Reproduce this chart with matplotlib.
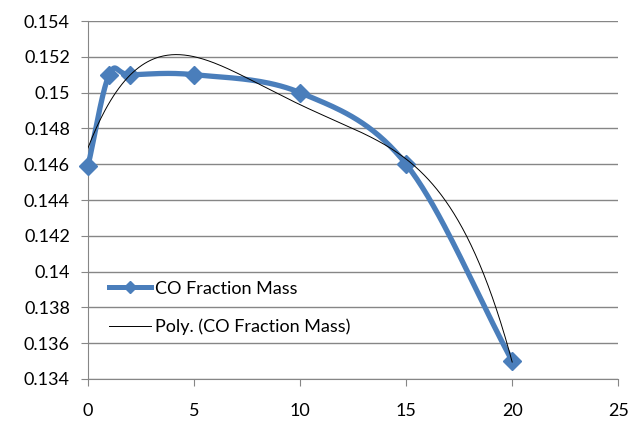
import numpy as np
import matplotlib
matplotlib.use("Agg")
import matplotlib.pyplot as plt
from matplotlib.ticker import FuncFormatter

x_vals = [0, 1, 2, 5, 10, 15, 20]
co_mass = [0.1459, 0.1510, 0.1510, 0.1510, 0.1500, 0.1460, 0.1350]
series_label = "CO Fraction Mass"
trend_label = "Poly. (CO Fraction Mass)"
poly_order = 4

plt.rcParams['font.family'] = ['Lato', 'DejaVu Sans']

def catmull_rom(xs, ys, n=40):
    xs = np.asarray(xs, float); ys = np.asarray(ys, float)
    px = np.concatenate([[2*xs[0]-xs[1]], xs, [2*xs[-1]-xs[-2]]])
    py = np.concatenate([[2*ys[0]-ys[1]], ys, [2*ys[-1]-ys[-2]]])
    ox, oy = [], []
    for i in range(1, len(px)-2):
        p0 = np.array([px[i], py[i]])
        p3 = np.array([px[i+1], py[i+1]])
        c1 = p0 + (np.array([px[i+1], py[i+1]]) - np.array([px[i-1], py[i-1]])) / 6
        c2 = p3 - (np.array([px[i+2], py[i+2]]) - np.array([px[i], py[i]])) / 6
        t = np.linspace(0, 1, n)[:, None]
        b = (1-t)**3*p0 + 3*(1-t)**2*t*c1 + 3*(1-t)*t**2*c2 + t**3*p3
        ox.extend(b[:, 0]); oy.extend(b[:, 1])
    return np.array(ox), np.array(oy)

fig = plt.figure(figsize=(6.42, 4.21), dpi=100)
ax = fig.add_axes([0.137, 0.0998, 0.826, 0.8502])
ax.set_xlim(0, 25)
ax.set_ylim(0.134, 0.154)

# smooth in screen space like Excel
pts = ax.transData.transform(np.column_stack([x_vals, co_mass]))
qx, qy = catmull_rom(pts[:, 0], pts[:, 1])
back = ax.transData.inverted().transform(np.column_stack([qx, qy]))
blue = '#4A7EBB'
ax.plot(back[:, 0], back[:, 1], color=blue, lw=3.8, solid_capstyle='round', zorder=3, clip_on=False)
ax.plot(x_vals, co_mass, linestyle='none', marker='D', ms=9, color=blue, zorder=4, clip_on=False)
leg_main, = ax.plot([], [], color=blue, lw=3.6, marker='D', ms=6)

coef = np.polyfit(x_vals, co_mass, poly_order)
tx = np.linspace(0, 20, 300)
ax.plot(tx, np.polyval(coef, tx), color='black', lw=0.7, zorder=5)
leg_trend, = ax.plot([], [], color='black', lw=0.7)

ax.set_xticks(np.arange(0, 26, 5))
ax.set_yticks(np.arange(0.134, 0.1541, 0.002))
ax.yaxis.set_major_formatter(FuncFormatter(lambda v, p: f"{v:.3f}".rstrip('0')))
ax.grid(axis='y', color='#868686', lw=1)
ax.set_axisbelow(True)
for s in ['top', 'right']:
    ax.spines[s].set_visible(False)
for s in ['left', 'bottom']:
    ax.spines[s].set_color('#868686')
ax.tick_params(axis='both', colors='#868686', labelcolor='black', labelsize=13, length=5)
ax.tick_params(axis='x', pad=12)
ax.tick_params(axis='y', pad=8)

ax.legend([leg_main, leg_trend], [series_label, trend_label], frameon=False,
          loc='upper left', bbox_to_anchor=(0.009, 0.32), fontsize=13,
          labelspacing=1.2, handlelength=2.3, handletextpad=0.25)

fig.savefig('out.png', dpi=100)
